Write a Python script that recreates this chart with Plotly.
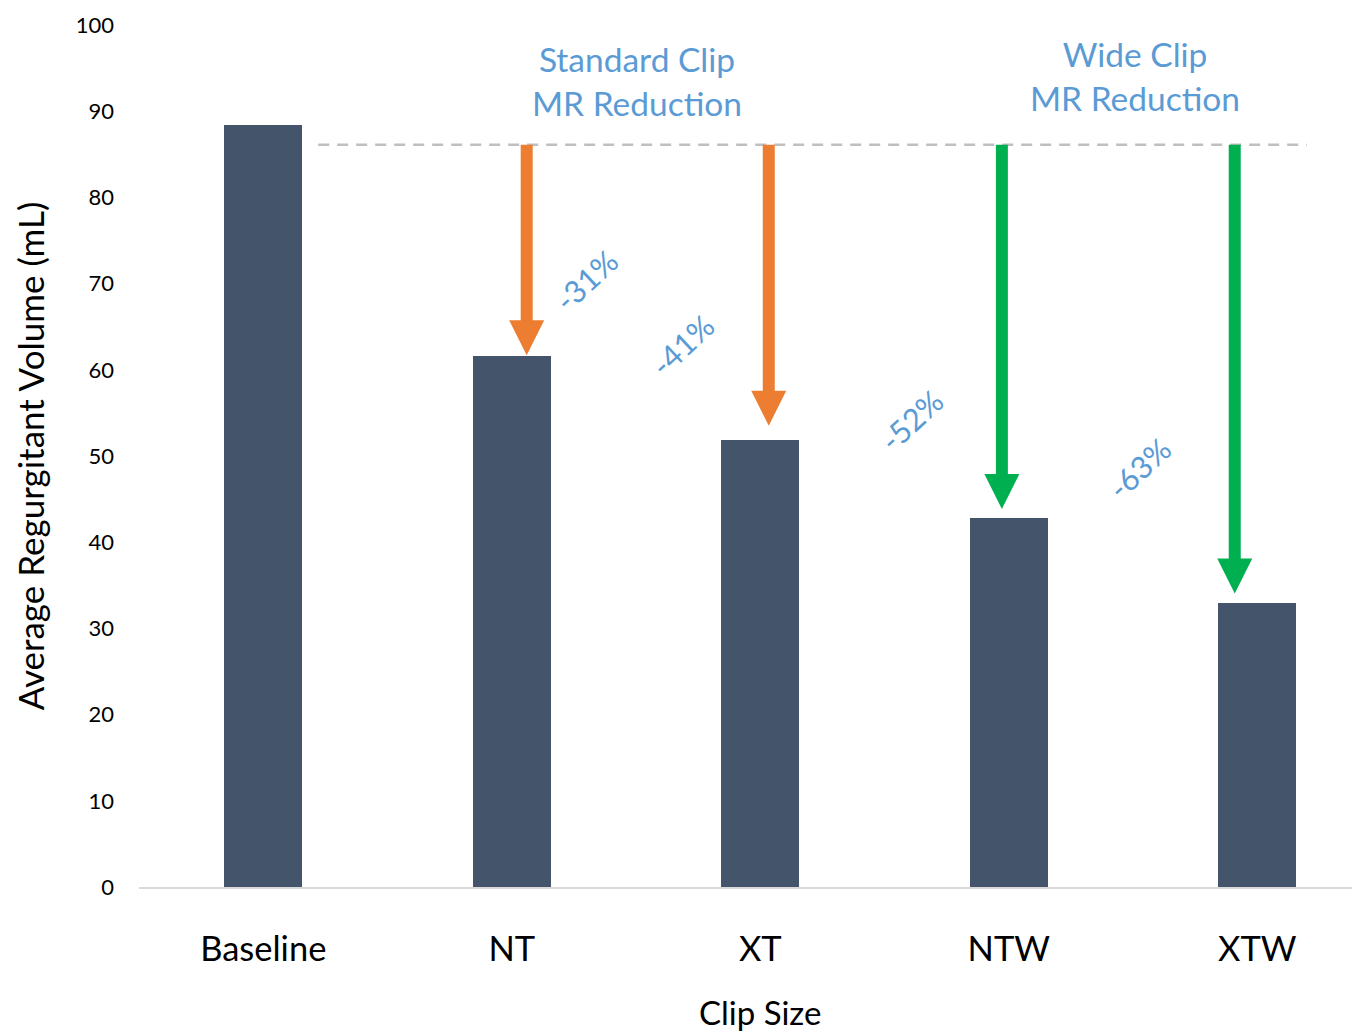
import plotly.graph_objects as go

# ---- data ----
categories = ["Baseline", "NT", "XT", "NTW", "XTW"]
volumes = [88.4, 61.6, 51.9, 42.8, 33.0]
reference_level = 86.1            # dashed reference line (mL)
reduction_labels = ["-31%", "-41%", "-52%", "-63%"]
arrow_categories = [1, 2, 3, 4]   # indices of NT, XT, NTW, XTW
group_titles = ["Standard Clip<br>MR Reduction", "Wide Clip<br>MR Reduction"]
y_ticks = [0, 10, 20, 30, 40, 50, 60, 70, 80, 90, 100]
x_title = "Clip Size"
y_title = "Average Regurgitant Volume (mL)"

# ---- style / layout helpers (not data) ----
BAR_COLOR = "#44546A"
ORANGE = "#ED7D31"
GREEN = "#00B050"
BLUE_TEXT = "#5B9BD5"
FONT = "Lato"
arrow_colors = [ORANGE, ORANGE, GREEN, GREEN]
arrow_x_offsets = [0.060, 0.034, -0.028, -0.091]
arrow_tip_gaps = [0.1, 1.6, 1.05, 1.05]
label_positions = [(1.300, 70.4), (1.686, 62.9), (2.608, 54.2), (3.525, 48.6)]
group_title_positions = [(1.505, 93.5), (3.509, 94.1)]
dash_x_span = (0.221, 4.199)

X_RANGE = [-0.5, 4.413]
Y_RANGE = [0, 100]
WIDTH, HEIGHT = 1352, 1024
M_L, M_R, M_T, M_B = 131, 0, 17, 145
px_per_x = (WIDTH - M_L - M_R) / (X_RANGE[1] - X_RANGE[0])
plot_h = HEIGHT - M_T - M_B
px_per_y = plot_h / (Y_RANGE[1] - Y_RANGE[0])

HEAD_LEN = 35 / px_per_y
HEAD_HALF = 17.5 / px_per_x
SHAFT_W = 12

fig = go.Figure()
fig.add_trace(go.Bar(
    x=list(range(len(categories))),
    y=volumes,
    width=0.314,
    marker=dict(color=BAR_COLOR, line=dict(width=0)),
    showlegend=False,
    hoverinfo="x+y",
))

shapes = []
# dashed reference line
shapes.append(dict(
    type="line", xref="x", yref="y",
    x0=dash_x_span[0], x1=dash_x_span[1], y0=reference_level, y1=reference_level,
    line=dict(color="#BFBFBF", width=2.5, dash="11px,8px"),
    layer="below",
))

annotations = []
for i, ci in enumerate(arrow_categories):
    x = ci + arrow_x_offsets[i]
    tip = volumes[ci] + arrow_tip_gaps[i]
    head_base = tip + HEAD_LEN
    col = arrow_colors[i]
    shapes.append(dict(
        type="line", xref="x", yref="y",
        x0=x, x1=x, y0=reference_level, y1=head_base - 0.1,
        line=dict(color=col, width=SHAFT_W),
    ))
    shapes.append(dict(
        type="path", xref="x", yref="y",
        path=f"M {x - HEAD_HALF},{head_base} L {x + HEAD_HALF},{head_base} L {x},{tip} Z",
        fillcolor=col, line=dict(width=0),
    ))
    lx, ly = label_positions[i]
    annotations.append(dict(
        x=lx, y=ly, xref="x", yref="y", text=reduction_labels[i],
        showarrow=False, textangle=-43,
        font=dict(family=FONT, size=31, color=BLUE_TEXT),
    ))

for (gx, gy), t in zip(group_title_positions, group_titles):
    annotations.append(dict(
        x=gx, y=gy, xref="x", yref="y", text=t, showarrow=False,
        font=dict(family=FONT, size=33.5, color=BLUE_TEXT),
        align="center", yanchor="middle",
    ))

# x-axis title, centred on the category band (as in the original chart)
annotations.append(dict(
    x=(len(categories) - 1) / 2, xref="x",
    y=-(125 / plot_h), yref="paper", yanchor="middle",
    text=x_title, showarrow=False,
    font=dict(family=FONT, size=33, color="black"),
))

fig.update_layout(
    width=WIDTH, height=HEIGHT,
    margin=dict(l=M_L, r=M_R, t=M_T, b=M_B, pad=0),
    paper_bgcolor="white", plot_bgcolor="white",
    font=dict(family=FONT, color="black"),
    shapes=shapes,
    annotations=annotations,
    bargap=0,
)
fig.update_xaxes(
    range=X_RANGE,
    tickmode="array",
    tickvals=list(range(len(categories))),
    ticktext=categories,
    tickfont=dict(family=FONT, size=34.5, color="black"),
    showline=True, linecolor="#D9D9D9", linewidth=1.5,
    showgrid=False, zeroline=False,
    ticks="", ticklabelstandoff=31,
    automargin=False,
)
fig.update_yaxes(
    range=Y_RANGE,
    tickmode="array",
    tickvals=y_ticks,
    tickfont=dict(family=FONT, size=22, color="black"),
    showline=False, showgrid=False, zeroline=False,
    ticks="", ticklabelstandoff=24,
    title=dict(text=y_title, font=dict(family=FONT, size=35, color="black"), standoff=20),
    automargin=False,
)

fig.write_html("out.html")
